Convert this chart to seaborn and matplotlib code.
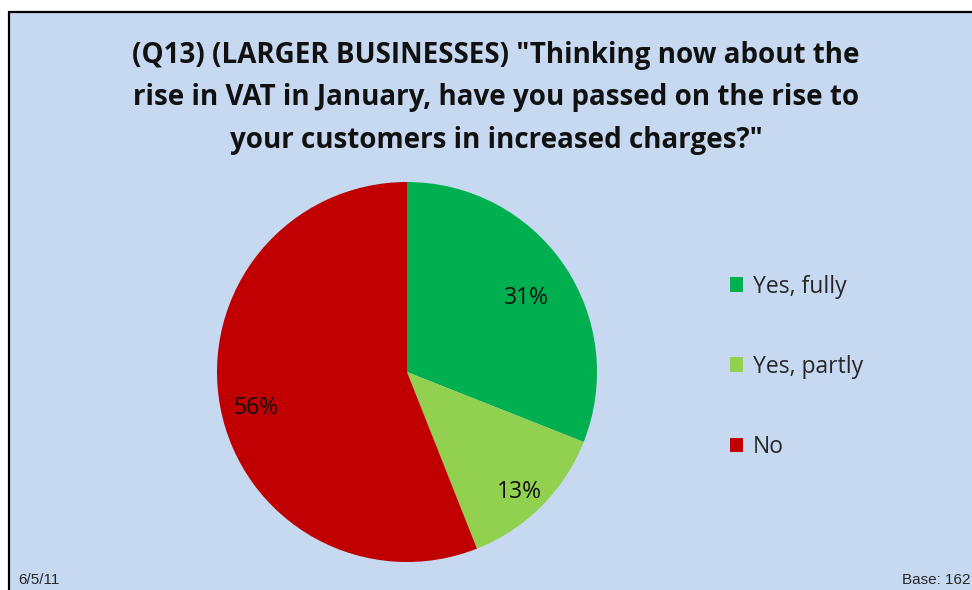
import matplotlib
matplotlib.use("Agg")
import numpy as np
import matplotlib.pyplot as plt
import matplotlib.transforms as mtransforms
import seaborn as sns
from matplotlib.patches import Rectangle

# data
categories = ["Yes, fully", "Yes, partly", "No"]
shares = [31, 13, 56]
colors = ["#00B050", "#92D050", "#C00000"]
title = ('(Q13) (LARGER BUSINESSES) "Thinking now about the\n'
         'rise in VAT in January, have you passed on the rise to\n'
         'your customers in increased charges?"')
date_note = "6/5/11"
base_note = "Base: 162"

# label distance from centre per slice (best-fit style placement)
label_dist = [0.76, 0.84, 0.81]

sns.set_style("white")
plt.rcParams["font.family"] = ["Open Sans", "DejaVu Sans"]

W, H = 972, 590
fig = plt.figure(figsize=(W / 100, H / 100), dpi=100)
fig.patch.set_facecolor("white")

# chart area panel with black frame (top/left visible)
fig.patches.append(Rectangle((9 / W, -0.05), 1.2, (H - 12) / H + 0.05,
                             transform=fig.transFigure, facecolor="#C6D9F1",
                             edgecolor="black", linewidth=1.6, zorder=-5))

ax = fig.add_axes([217 / W, 28 / H, 380 / W, 380 / H])
ax.set_zorder(2)
ax.set_facecolor("none")
wedges, _, autotexts = ax.pie(shares, colors=colors, startangle=90,
                              counterclock=False, autopct="%d%%",
                              pctdistance=0.8,
                              textprops={"fontsize": 16.5, "color": "#111111"},
                              wedgeprops={"linewidth": 0})
shifted = mtransforms.offset_copy(ax.transData, fig=fig, y=-7, units="dots")
for w, t, d in zip(wedges, autotexts, label_dist):
    mid = np.deg2rad((w.theta1 + w.theta2) / 2)
    t.set_position((d * np.cos(mid), d * np.sin(mid)))
    t.set_transform(shifted)
ax.set_xlim(-1, 1)
ax.set_ylim(-1, 1)
ax.set_aspect("equal")

leg = fig.legend(wedges, categories, loc="upper left",
                 bbox_to_anchor=(709 / W, 1 - 254 / H), frameon=False,
                 fontsize=16.5, handlelength=0.6, handleheight=0.6,
                 handletextpad=0.4, labelspacing=2.45)
leg.set_zorder(3)

fig.text(496 / W, 1 - 98 / H, title, ha="center", va="center",
         fontsize=20, fontweight="bold", linespacing=1.6, color="#111111")

fig.text(18 / W, 1 - 580 / H, date_note, ha="left", va="center",
         fontsize=11, family=["Liberation Sans", "DejaVu Sans"])
fig.text(970 / W, 1 - 580 / H, base_note, ha="right", va="center",
         fontsize=11, family=["Liberation Sans", "DejaVu Sans"])

fig.savefig("out.png", dpi=100)
